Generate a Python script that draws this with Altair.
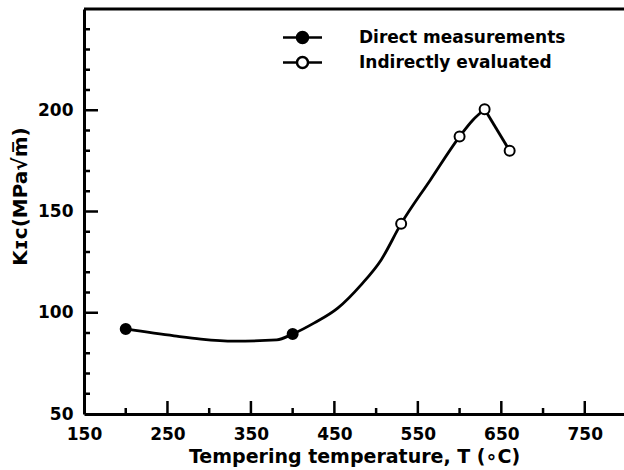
import altair as alt
import pandas as pd

# ---- data ----
series_names = ["Direct measurements", "Indirectly evaluated"]
direct_T = [200, 400]
direct_K = [92, 89.5]
indirect_T = [530, 600, 630, 660]
indirect_K = [144, 187, 200.5, 180]

# points (smooth part, then the straight drop)
curve_T = [200, 258, 290, 330, 381, 400, 426, 454, 482, 506, 530, 565, 600, 616, 630]
curve_K = [92, 88.6, 87, 86, 86.6, 89.5, 95, 102.3, 113.8, 126.1, 144, 165.6, 187, 195.2, 200.5]
drop_T = [630, 660]
drop_K = [200.5, 180]

x_labels = [150, 250, 350, 450, 550, 650, 750]
x_major = [250, 350, 450, 550, 650, 750]
x_minor = [200, 300, 400, 500, 600, 700]
y_labels = [50, 100, 150, 200]
y_major = [100, 150, 200]
y_minor = [60, 70, 80, 90, 110, 120, 130, 140, 160, 170, 180, 190, 210, 220, 230, 240]

X_DOMAIN = [150, 797]
Y_DOMAIN = [50, 250]
FONT = "DejaVu Sans"

pts = pd.DataFrame({
    "T": direct_T + indirect_T,
    "K": direct_K + indirect_K,
    "series": [series_names[0]] * len(direct_T) + [series_names[1]] * len(indirect_T),
})
curve = pd.DataFrame({"T": curve_T, "K": curve_K})
drop = pd.DataFrame({"T": drop_T, "K": drop_K})

xs = alt.Scale(domain=X_DOMAIN, nice=False, zero=False)
ys = alt.Scale(domain=Y_DOMAIN, nice=False, zero=False)

x_axis = alt.Axis(
    values=x_labels, ticks=False, tickSize=0, grid=False, labelFlush=False,
    labelOverlap=False, labelPadding=12, domainWidth=3, domainColor="black",
    labelFont=FONT, labelFontWeight="bold", labelFontSize=17, labelColor="black",
    title="Tempering temperature, T (\u2218C)", titleFont=FONT, titleFontWeight="bold",
    titleFontSize=19, titleColor="black", titleX=270, titleY=48,
    titleAlign="center", titleBaseline="alphabetic",
)
y_axis = alt.Axis(
    values=y_labels, ticks=False, tickSize=0, grid=False, labelOverlap=False,
    labelPadding=11, domainWidth=3, domainColor="black",
    labelFont=FONT, labelFontWeight="bold", labelFontSize=17, labelColor="black",
    title="K\u026a\u1d04(MPa\u221am\u0305)", titleFont=FONT, titleFontWeight="bold",
    titleFontSize=20, titleColor="black", titleAngle=270, titleX=-64, titleY=187,
    titleAlign="center", titleBaseline="middle",
)

line = alt.Chart(curve).mark_line(
    color="black", strokeWidth=2.8, interpolate="monotone"
).encode(
    x=alt.X("T:Q", scale=xs, axis=x_axis),
    y=alt.Y("K:Q", scale=ys, axis=y_axis),
)

drop_line = alt.Chart(drop).mark_line(
    color="black", strokeWidth=2.8
).encode(
    x=alt.X("T:Q", scale=xs),
    y=alt.Y("K:Q", scale=ys),
)

top_rule = alt.Chart(pd.DataFrame({"v": [Y_DOMAIN[1]]})).mark_rule(
    color="black", strokeWidth=3
).encode(y=alt.Y("v:Q", scale=ys))

def xticks(vals, length):
    return alt.Chart(pd.DataFrame({"t": vals})).mark_tick(
        orient="vertical", color="black", thickness=2.5, size=length,
        yOffset=-length / 2, opacity=1
    ).encode(x=alt.X("t:Q", scale=xs), y=alt.datum(Y_DOMAIN[0]))

def yticks(vals, length):
    return alt.Chart(pd.DataFrame({"t": vals})).mark_tick(
        orient="horizontal", color="black", thickness=2.5, size=length,
        xOffset=length / 2, opacity=1
    ).encode(y=alt.Y("t:Q", scale=ys), x=alt.datum(X_DOMAIN[0]))

legend_path = (
    "M-1.625,0L-0.46,0M0.46,0L1.625,0"
    "M-0.46,0A0.46,0.46,0,1,0,0.46,0A0.46,0.46,0,1,0,-0.46,0Z"
)

points = alt.Chart(pts).mark_point(
    filled=True, stroke="black", strokeWidth=2, size=100, opacity=1
).encode(
    x=alt.X("T:Q", scale=xs),
    y=alt.Y("K:Q", scale=ys),
    fill=alt.Fill(
        "series:N",
        scale=alt.Scale(domain=series_names, range=["black", "white"]),
        legend=alt.Legend(
            title=None, orient="none", legendX=205, legendY=15,
            symbolType=legend_path, symbolSize=576, symbolStrokeColor="black",
            symbolStrokeWidth=2.5, labelFont=FONT, labelFontWeight="bold",
            labelFontSize=17, labelColor="black", labelOffset=43, labelLimit=400,
            rowPadding=0, padding=0, labelBaseline="middle",
        ),
    ),
)

chart = alt.layer(
    line, drop_line, top_rule,
    xticks(x_major, 13), xticks(x_minor, 6),
    yticks(y_major, 14), yticks(y_minor, 6),
    points,
).properties(
    width=540, height=405,
    autosize=alt.AutoSizeParams(type="none"),
    padding={"left": 84, "top": 9, "right": 0, "bottom": 56},
).configure_view(stroke="transparent").configure(background="white")

chart.save("out.html", embed_options={"renderer": "svg", "actions": False})
